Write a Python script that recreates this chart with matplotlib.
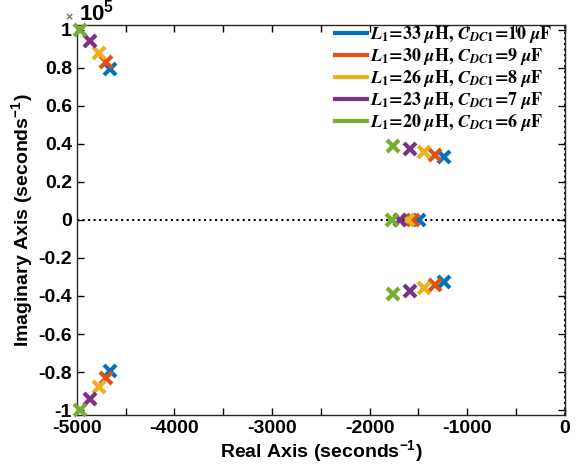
import matplotlib.pyplot as plt
from matplotlib.font_manager import FontProperties
from matplotlib.ticker import MultipleLocator, FuncFormatter

plt.rcParams['font.family'] = 'Liberation Sans'
plt.rcParams['font.weight'] = 'bold'
plt.rcParams['axes.unicode_minus'] = False
plt.rcParams['mathtext.fontset'] = 'custom'
plt.rcParams['mathtext.rm'] = 'Liberation Sans:bold'
plt.rcParams['mathtext.bf'] = 'Liberation Sans:bold'

# polos para cada combinacion L1 / CDC1
etiquetas = [
    r'$\mathbfit{L}_{\mathbf{1}}$=33 $\mathbfit{\mu}$H, $\mathbfit{C}_{\mathbfit{DC}\mathbf{1}}$=10 $\mathbfit{\mu}$F',
    r'$\mathbfit{L}_{\mathbf{1}}$=30 $\mathbfit{\mu}$H, $\mathbfit{C}_{\mathbfit{DC}\mathbf{1}}$=9 $\mathbfit{\mu}$F',
    r'$\mathbfit{L}_{\mathbf{1}}$=26 $\mathbfit{\mu}$H, $\mathbfit{C}_{\mathbfit{DC}\mathbf{1}}$=8 $\mathbfit{\mu}$F',
    r'$\mathbfit{L}_{\mathbf{1}}$=23 $\mathbfit{\mu}$H, $\mathbfit{C}_{\mathbfit{DC}\mathbf{1}}$=7 $\mathbfit{\mu}$F',
    r'$\mathbfit{L}_{\mathbf{1}}$=20 $\mathbfit{\mu}$H, $\mathbfit{C}_{\mathbfit{DC}\mathbf{1}}$=6 $\mathbfit{\mu}$F',
]
colores = ['#0072BD', '#D95319', '#EDB120', '#7E2F8E', '#77AC30']

# polo complejo de alta frecuencia (parte real, parte imaginaria)
re_alto = [-4662, -4703, -4775, -4867, -4969]
im_alto = [79500, 83200, 87800, 94200, 99800]
# polo complejo de baja frecuencia
re_bajo = [-1240, -1330, -1445, -1590, -1765]
im_bajo = [32900, 34200, 35600, 37400, 38900]
# polo real
re_real = [-1496, -1557, -1609, -1690, -1773]

fig = plt.figure(figsize=(5.86, 4.73), dpi=100)
ax = fig.add_axes([0.131, 0.123, 0.833, 0.824])

for i in range(len(etiquetas)):
    xs = [re_alto[i], re_alto[i], re_bajo[i], re_bajo[i], re_real[i]]
    ys = [im_alto[i], -im_alto[i], im_bajo[i], -im_bajo[i], 0]
    ax.plot(xs, ys, linestyle='none', marker='x', markersize=9,
            markeredgewidth=3, color=colores[i], clip_on=False, zorder=3)
    ax.plot([], [], color=colores[i], linewidth=3, label=etiquetas[i])

ax.axhline(0, color='black', linestyle=':', linewidth=1.5, zorder=0)
ax.axvline(0, color='black', linestyle=':', linewidth=1.5, zorder=0)

ax.set_xlim(-5000, 0)
ax.set_ylim(-1.025e5, 1.025e5)
ax.xaxis.set_major_locator(MultipleLocator(500))
ax.xaxis.set_major_formatter(FuncFormatter(lambda v, p: '%d' % v if v % 1000 == 0 else ''))
ax.yaxis.set_major_locator(MultipleLocator(2e4))
ax.yaxis.set_major_formatter(FuncFormatter(lambda v, p: '%g' % round(v / 1e5, 1)))
ax.tick_params(direction='in', top=True, right=True, labelsize=14, length=5, width=1)
for s in ax.spines.values():
    s.set_linewidth(1)
    s.set_color('#262626')

ax.set_xlabel(r'Real Axis (seconds$^{\mathbf{-1}}$)', fontsize=14, fontweight='bold',
              labelpad=1, math_fontfamily='custom')
ax.set_ylabel(r'Imaginary Axis (seconds$^{\mathbf{-1}}$)', fontsize=14, fontweight='bold',
              labelpad=2, math_fontfamily='custom')

ax.text(-0.025, 1.005, r'$\times$', transform=ax.transAxes, fontsize=9,
        color='#707070', ha='left', va='bottom', fontweight='normal')
ax.text(0.005, 1.0, r'10$^{\mathbf{5}}$', transform=ax.transAxes, fontsize=16,
        ha='left', va='bottom', math_fontfamily='custom')

prop = FontProperties(family='STIXGeneral', weight='bold', size=13, math_fontfamily='stix')
ax.legend(loc='upper right', frameon=False, prop=prop, handlelength=1.75,
          handletextpad=0.15, labelspacing=0.05, borderaxespad=0.2,
          bbox_to_anchor=(0.995, 1.03))

plt.savefig('out.png', dpi=100)
plt.close()
